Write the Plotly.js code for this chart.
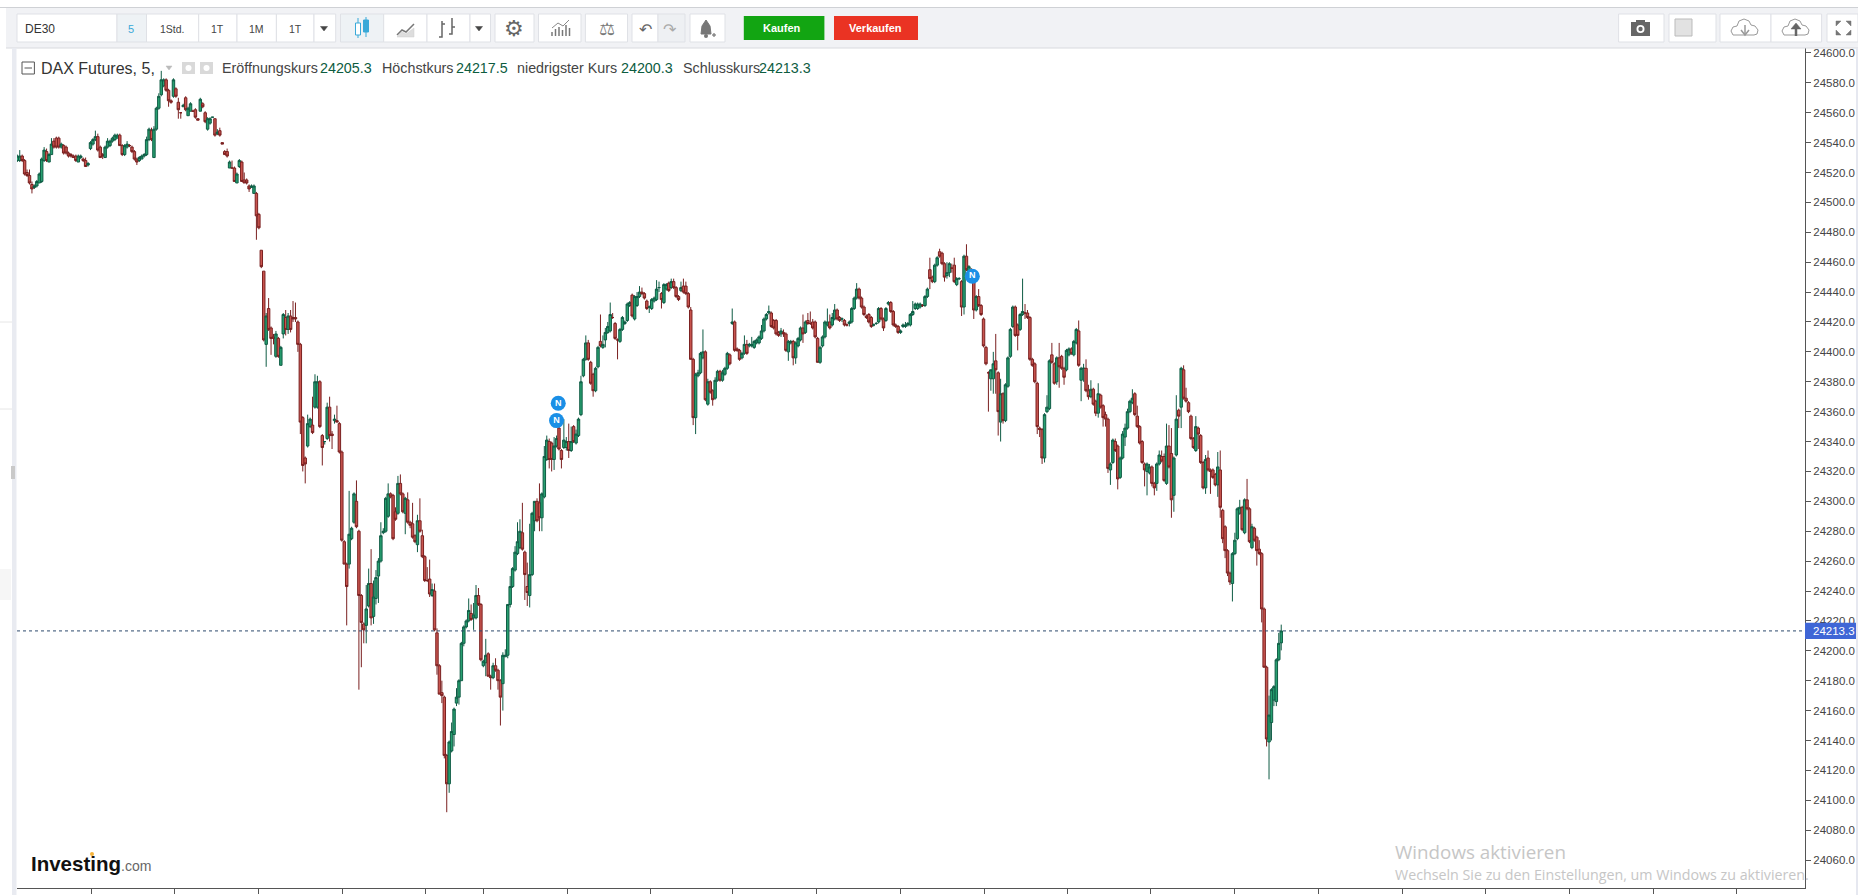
<!DOCTYPE html>
<html><head><meta charset="utf-8">
<script src="https://cdn.plot.ly/plotly-3.0.1.min.js"></script>
<style>html,body{margin:0;padding:0;background:#fff;overflow:hidden}#chart{width:1858px;height:895px}</style>
</head><body><div id="chart"></div>
<script>
const open=[24528,24528,24531,24528,24520,24518,24512,24510,24511,24513,24514,24528,24534,24527,24532,24541,24543,24543,24537,24538,24537,24533,24532,24531,24531,24527,24530,24529,24528,24525,24536,24539,24542,24544,24537,24532,24530,24537,24538,24541,24542,24543,24545,24538,24532,24537,24538,24537,24534,24529,24528,24529,24531,24532,24542,24548,24530,24549,24563,24572,24578,24582,24575,24568,24571,24576,24567,24560,24564,24570,24558,24561,24561,24562,24556,24561,24566,24560,24549,24553,24557,24556,24546,24548,24540,24534,24534,24523,24523,24523,24513,24524,24527,24515,24515,24511,24510,24506,24506,24492,24468,24454,24405,24429,24416,24410,24397,24409,24391,24412,24423,24415,24424,24423,24423,24420,
24405,24356,24329,24337,24350,24351,24363,24363,24380,24344,24340,24342,24363,24345,24354,24354,24352,24333,24273,24258,24258,24275,24286,24300,24280,24237,24218,24217,24230,24245,24223,24235,24250,24260,24279,24280,24290,24305,24304,24293,24292,24312,24305,24292,24301,24286,24285,24277,24271,24287,24277,24263,24247,24248,24237,24240,24212,24190,24172,24169,24130,24111,24133,24144,24165,24169,24180,24205,24216,24220,24225,24222,24222,24237,24231,24190,24192,24198,24183,24182,24190,24187,24180,24178,24196,24197,24231,24243,24254,24265,24269,24279,24266,24243,24237,24251,24287,24300,24299,24289,24303,
24328,24340,24339,24328,24337,24349,24334,24336,24336,24340,24334,24350,24339,24344,24358,24384,24395,24406,24393,24385,24374,24390,24407,24403,24408,24413,24414,24423,24419,24408,24407,24415,24419,24421,24431,24438,24422,24431,24437,24440,24439,24434,24430,24429,24434,24435,24443,24439,24433,24442,24446,24443,24447,24443,24437,24441,24444,24444,24439,24428,24395,24356,24384,24386,24396,24400,24365,24380,24374,24369,24381,24387,24381,24385,24389,24398,24419,24420,24402,24401,24396,24399,24405,24404,24404,24403,24406,24406,24409,24414,24422,24426,24426,24421,24421,24413,24412,24413,24412,24400,24406,24407,24396,24404,24408,24416,24413,24421,24419,24420,24420,24409,24393,24404,24410,24418,24420,
24418,24422,24428,24423,24422,24421,24418,24419,24420,24429,24436,24442,24436,24430,24424,24425,24423,24418,24419,24420,24429,24422,24421,24432,24433,24427,24418,24417,24413,24417,24417,24418,24418,24425,24429,24429,24430,24431,24431,24437,24455,24450,24447,24458,24467,24466,24459,24451,24453,24456,24458,24445,24449,24447,24430,24464,24454,24452,24447,24428,24437,24431,24422,24403,24386,24382,24382,24394,24386,24353,24372,24354,24377,24397,24417,24430,24418,24415,24425,24426,24426,24423,24395,24392,24379,24349,24348,24329,24360,24362,24398,24392,24380,24396,24397,24389,24388,24398,24402,24398,24406,24414,24381,24389,24389,24374,24370,24375,24367,24359,24371,
24364,24358,24355,24321,24326,24340,24337,24316,24329,24343,24349,24360,24366,24372,24357,24350,24340,24325,24320,24319,24323,24312,24312,24325,24330,24330,24312,24337,24332,24304,24331,24361,24363,24388,24369,24366,24357,24342,24334,24349,24344,24326,24309,24329,24321,24321,24318,24311,24321,24294,24283,24267,24252,24245,24265,24275,24292,24296,24279,24301,24295,24269,24282,24276,24268,24265,24228,24189,24139,24152,24167,24166,24194,24205.3];
const high=[24532,24535,24532,24529,24522,24522,24514,24512,24515,24520,24530,24537,24536,24533,24543,24543,24544,24544,24540,24539,24538,24534,24533,24532,24532,24532,24532,24530,24530,24527,24541,24543,24548,24546,24538,24533,24538,24543,24542,24544,24546,24546,24546,24539,24539,24541,24539,24538,24535,24530,24531,24532,24533,24544,24550,24550,24551,24564,24573,24588,24583,24583,24576,24569,24583,24577,24570,24560,24566,24571,24564,24567,24562,24563,24556,24570,24567,24561,24557,24557,24557,24556,24549,24550,24540,24535,24536,24528,24528,24524,24520,24529,24528,24520,24516,24512,24512,24512,24507,24493,24468,24454,24426,24436,24417,24412,24414,24410,24404,24426,24428,24426,24428,24434,24433,24421,
24406,24357,24330,24358,24356,24370,24385,24384,24381,24345,24340,24366,24370,24347,24358,24364,24353,24334,24274,24259,24307,24283,24306,24314,24281,24238,24219,24244,24255,24268,24247,24254,24262,24286,24282,24303,24312,24306,24305,24296,24317,24318,24306,24303,24306,24287,24299,24278,24291,24302,24281,24264,24256,24261,24245,24245,24215,24191,24180,24170,24131,24140,24152,24162,24175,24181,24206,24217,24221,24235,24231,24232,24244,24242,24232,24194,24208,24199,24184,24192,24195,24188,24181,24199,24201,24231,24250,24256,24270,24286,24288,24299,24267,24259,24285,24293,24300,24302,24312,24306,24337,
24344,24342,24340,24343,24344,24351,24335,24355,24343,24352,24350,24351,24348,24356,24384,24396,24411,24408,24394,24386,24390,24404,24425,24411,24416,24420,24433,24426,24420,24409,24416,24424,24421,24433,24434,24439,24438,24440,24444,24443,24440,24435,24431,24436,24437,24448,24447,24440,24446,24446,24447,24449,24449,24444,24438,24447,24449,24447,24440,24430,24396,24386,24388,24400,24415,24401,24382,24381,24375,24383,24388,24388,24388,24390,24400,24399,24429,24421,24403,24402,24400,24411,24408,24406,24410,24408,24409,24411,24418,24423,24426,24431,24427,24422,24422,24414,24416,24415,24413,24408,24408,24408,24407,24410,24417,24425,24421,24426,24427,24422,24421,24410,24404,24411,24421,24429,24425,
24426,24432,24429,24424,24423,24422,24419,24421,24430,24437,24446,24443,24437,24431,24425,24426,24424,24419,24420,24430,24430,24423,24430,24434,24434,24428,24419,24418,24415,24419,24420,24420,24426,24434,24433,24433,24433,24432,24438,24443,24463,24451,24459,24464,24469,24467,24460,24460,24460,24459,24463,24450,24450,24448,24465,24472,24458,24456,24448,24438,24442,24432,24423,24404,24387,24388,24400,24412,24387,24382,24373,24379,24397,24416,24431,24431,24419,24426,24449,24432,24428,24424,24396,24393,24380,24350,24349,24359,24371,24395,24406,24393,24397,24406,24398,24390,24402,24403,24403,24408,24416,24421,24390,24392,24395,24378,24381,24376,24368,24379,24372,
24365,24360,24356,24326,24342,24342,24338,24330,24347,24352,24362,24368,24375,24373,24364,24351,24341,24326,24326,24325,24324,24313,24326,24334,24334,24332,24352,24351,24349,24330,24371,24362,24390,24391,24376,24367,24358,24343,24357,24350,24345,24327,24331,24334,24322,24322,24319,24333,24334,24295,24284,24268,24253,24266,24279,24296,24301,24297,24302,24315,24296,24285,24283,24277,24274,24266,24229,24190,24170,24175,24177,24195,24212,24217.5];
const low=[24527,24527,24527,24518,24517,24512,24506,24509,24510,24513,24513,24527,24527,24527,24532,24536,24536,24536,24536,24532,24532,24530,24530,24530,24527,24527,24529,24527,24524,24524,24535,24538,24541,24534,24530,24529,24530,24536,24537,24540,24541,24543,24538,24531,24531,24536,24537,24533,24528,24525,24527,24529,24530,24531,24541,24541,24530,24548,24562,24571,24577,24574,24564,24566,24570,24570,24556,24556,24564,24561,24558,24561,24561,24556,24555,24561,24563,24553,24548,24552,24557,24544,24545,24544,24539,24532,24530,24523,24523,24514,24513,24523,24514,24513,24512,24507,24510,24506,24475,24482,24456,24407,24390,24414,24398,24405,24396,24396,24391,24409,24411,24412,24413,24420,24420,24400,
24345,24320,24312,24336,24349,24345,24362,24362,24349,24324,24338,24341,24340,24335,24352,24353,24332,24273,24258,24217,24255,24274,24285,24282,24174,24189,24205,24205,24229,24217,24218,24231,24232,24259,24278,24279,24289,24302,24274,24287,24291,24304,24292,24278,24285,24282,24275,24272,24266,24279,24262,24246,24246,24236,24236,24213,24184,24171,24165,24128,24092,24105,24132,24136,24163,24164,24180,24203,24215,24219,24220,24214,24221,24230,24193,24189,24183,24183,24174,24181,24186,24174,24150,24160,24196,24195,24229,24242,24253,24264,24268,24267,24234,24230,24229,24250,24280,24286,24280,24280,24302,
24327,24322,24320,24321,24336,24334,24322,24335,24334,24329,24333,24339,24338,24343,24357,24383,24394,24394,24378,24370,24373,24389,24403,24402,24403,24412,24413,24422,24408,24395,24406,24414,24418,24420,24430,24423,24421,24430,24436,24438,24435,24428,24426,24428,24433,24434,24440,24429,24432,24441,24440,24442,24442,24436,24434,24440,24439,24438,24429,24395,24351,24345,24383,24385,24395,24367,24364,24372,24364,24368,24380,24380,24380,24384,24388,24391,24418,24400,24400,24394,24395,24398,24398,24403,24403,24402,24405,24405,24408,24413,24421,24425,24416,24415,24411,24410,24410,24410,24400,24394,24405,24391,24392,24403,24407,24406,24412,24418,24418,24415,24409,24393,24392,24403,24409,24417,24415,
24417,24421,24421,24420,24420,24417,24417,24417,24419,24428,24435,24435,24429,24424,24422,24419,24416,24417,24418,24419,24421,24414,24420,24431,24426,24417,24416,24412,24412,24416,24416,24417,24417,24424,24428,24428,24429,24430,24430,24436,24442,24446,24446,24457,24463,24458,24447,24449,24450,24453,24446,24444,24448,24424,24425,24454,24453,24451,24422,24427,24430,24424,24403,24391,24360,24374,24372,24372,24344,24340,24352,24353,24376,24396,24416,24410,24401,24414,24424,24422,24422,24394,24390,24379,24345,24343,24325,24326,24359,24361,24392,24378,24378,24376,24388,24378,24387,24397,24398,24397,24405,24390,24367,24380,24373,24368,24369,24364,24357,24356,24362,
24350,24350,24319,24311,24325,24333,24308,24315,24328,24337,24348,24359,24365,24357,24349,24338,24325,24310,24304,24318,24310,24304,24307,24324,24326,24313,24311,24322,24289,24293,24330,24349,24349,24368,24366,24359,24341,24335,24333,24335,24325,24308,24305,24320,24305,24315,24310,24303,24289,24272,24262,24250,24244,24233,24264,24274,24291,24280,24278,24294,24272,24268,24273,24257,24264,24219,24189,24136,24114,24140,24163,24163,24193,24200.3];
const close=[24531,24531,24528,24519,24518,24513,24509,24511,24514,24519,24529,24535,24528,24532,24539,24537,24537,24537,24539,24533,24533,24531,24531,24530,24528,24531,24531,24528,24524,24526,24540,24542,24544,24535,24530,24531,24537,24541,24541,24543,24545,24545,24538,24532,24538,24539,24538,24534,24529,24527,24530,24531,24532,24542,24549,24542,24549,24563,24571,24582,24582,24575,24568,24567,24582,24571,24562,24560,24565,24562,24563,24566,24561,24557,24555,24569,24564,24554,24556,24556,24557,24545,24547,24545,24539,24532,24531,24527,24523,24514,24519,24528,24514,24513,24513,24509,24511,24511,24491,24483,24457,24408,24424,24415,24409,24409,24412,24397,24403,24425,24415,24424,24415,24422,24422,24405,
24353,24324,24325,24352,24355,24346,24380,24380,24350,24336,24340,24363,24344,24344,24355,24353,24333,24274,24258,24243,24278,24282,24305,24283,24237,24219,24214,24228,24245,24222,24236,24249,24260,24277,24280,24302,24305,24303,24275,24288,24312,24305,24293,24302,24286,24284,24276,24273,24287,24280,24263,24247,24247,24238,24241,24214,24190,24171,24170,24130,24111,24139,24146,24161,24169,24180,24205,24216,24220,24227,24221,24224,24237,24231,24194,24193,24197,24183,24182,24190,24187,24180,24169,24197,24197,24231,24243,24255,24266,24273,24280,24268,24251,24239,24251,24292,24300,24287,24289,24305,24330,
24341,24328,24328,24337,24342,24335,24328,24341,24340,24334,24340,24340,24345,24355,24380,24395,24406,24395,24379,24374,24389,24403,24404,24405,24413,24417,24425,24423,24409,24408,24415,24423,24420,24432,24433,24424,24437,24437,24440,24439,24436,24429,24430,24435,24436,24442,24443,24435,24445,24445,24441,24447,24443,24437,24435,24443,24440,24439,24430,24395,24356,24385,24386,24399,24400,24368,24380,24373,24368,24381,24387,24381,24386,24389,24399,24392,24420,24401,24401,24395,24399,24405,24399,24405,24405,24407,24408,24410,24414,24422,24425,24427,24417,24416,24412,24411,24414,24412,24401,24407,24407,24396,24406,24409,24416,24412,24420,24419,24419,24416,24410,24393,24403,24410,24420,24420,24416,
24423,24428,24422,24421,24422,24418,24418,24420,24429,24436,24442,24436,24430,24425,24423,24420,24417,24418,24419,24429,24422,24416,24429,24433,24427,24418,24417,24413,24414,24418,24418,24419,24425,24427,24432,24432,24432,24431,24437,24442,24449,24447,24458,24463,24464,24459,24450,24453,24459,24456,24447,24449,24449,24430,24464,24455,24457,24452,24428,24437,24431,24425,24404,24392,24386,24388,24392,24388,24360,24372,24354,24378,24396,24415,24430,24411,24411,24425,24427,24426,24423,24395,24391,24380,24350,24348,24329,24358,24363,24394,24393,24379,24396,24390,24389,24383,24401,24402,24399,24407,24415,24391,24389,24389,24374,24370,24375,24365,24359,24372,24363,
24356,24355,24322,24325,24341,24334,24315,24329,24345,24349,24360,24367,24369,24358,24350,24339,24326,24321,24325,24323,24312,24309,24325,24331,24327,24314,24337,24323,24301,24329,24355,24357,24389,24369,24367,24360,24342,24336,24350,24345,24326,24309,24328,24321,24320,24316,24311,24323,24296,24275,24267,24252,24246,24265,24274,24295,24296,24281,24301,24295,24273,24283,24274,24267,24265,24228,24189,24141,24157,24174,24176,24194,24205,24213.3];

const tickPx=[91,174,258,342,425,483,567,650,732,816,900,984,1067,1150,1234,1318,1402,1485,1569,1653,1736];
const yTicks=[24060,24080,24100,24120,24140,24160,24180,24200,24220,24240,24260,24280,24300,24320,24340,24360,24380,24400,24420,24440,24460,24480,24500,24520,24540,24560,24580,24600];
const newsX=[221.7,221,391.4];
const newsY=[24365.6,24354,24450.6];
const lastPrice=24213.3;

const W=1858,H=895,L=17,R=1805,T=48,B=888,STEP=2.44,X0=17.3;
const fx=p=>(p-L)/(R-L), fy=p=>(B-p)/(B-T);
const shapes=[],ann=[];
function rect(x0,y0,x1,y1,fill,line){shapes.push({type:'rect',xref:'paper',yref:'paper',layer:'above',x0:fx(x0),x1:fx(x1),y0:fy(y0),y1:fy(y1),fillcolor:fill,line:{color:line||fill,width:line?1:0}});}
function path(pts,color,width,fill){const d=pts.map((p,i)=>(i?'L':'M')+fx(p[0])+' '+fy(p[1])).join(' ')+(fill?' Z':'');shapes.push({type:'path',xref:'paper',yref:'paper',layer:'above',path:d,line:{color:color,width:width},fillcolor:fill||'rgba(0,0,0,0)'});}
function circ(cx,cy,r,fill){shapes.push({type:'circle',xref:'paper',yref:'paper',layer:'above',x0:fx(cx-r),x1:fx(cx+r),y0:fy(cy+r),y1:fy(cy-r),fillcolor:fill,line:{width:0}});}
function label(x,y,t,size,color,anchor,fam){ann.push({xref:'paper',yref:'paper',x:fx(x),y:fy(y),text:t,showarrow:false,xanchor:anchor||'center',yanchor:'middle',borderpad:0,font:{size:size,color:color,family:fam||'Liberation Sans, Arial, sans-serif'}});}
function cloud(cx,cy){path([[-12,7],[-14,3],[-12,-1],[-8,-2],[-6,-7],[-1,-9],[4,-7],[6,-3],[10,-2],[13,2],[12,6],[9,7]].map(p=>[cx+p[0],cy+p[1]]),'#999',1,'#fff');}

// page chrome
rect(0,0,1858,7,'#ffffff');
rect(6,7.5,1858,48,'#f1f2f5');
path([[0,7.5],[1858,7.5]],'#cfd1d5',1);
path([[6,48],[1858,48]],'#d8dade',1);
rect(12,48,16.5,895,'#e9ebf1');
rect(1856,48,1858,895,'#e6e8f0');
path([[0,322],[12,322]],'#e6e6e6',1);path([[0,409],[12,409]],'#e6e6e6',1);
rect(0,569,11,600,'#f6f6f6');rect(11,466,15,479,'#c9c9c9');
const BTN='#dfe1e6';
function btn(a,b,fill){rect(a,14,b,42,fill||'#ffffff',BTN);}
btn(17,117);btn(117,146.5,'#eef2f5');btn(146.5,198.7);btn(198.7,237);btn(237,276.4);btn(276.4,314);btn(314,335.7);
btn(340.5,383.7,'#eef2f5');btn(383.7,427);btn(427,470);btn(470,490.5);btn(495,534);btn(538.5,581);btn(585.4,627.5);
btn(632,658,'#ffffff');btn(658,685,'#eef0f3');btn(690,725);
label(24,29,'DE30',12,'#333','left');
label(130.5,29,'5',11,'#39a9d8');
label(172.6,29,'1Std.',10.5,'#444');label(217.7,29,'1T',10.5,'#444');label(256,29,'1M',10.5,'#444');label(295,29,'1T',10.5,'#444');
function arrow(cx,c){path([[cx-3.5,26.5],[cx+3.5,26.5],[cx,31]],c||'#444',0.5,c||'#444');}
arrow(324);arrow(479);arrow(1704.5);
// candle icon
path([[358,18],[358,38]],'#39a9d8',1);rect(355.5,23,360.5,35,'#ffffff','#39a9d8');
path([[366,17],[366,37]],'#39a9d8',1);rect(363.5,20,368.5,32,'#39a9d8','#39a9d8');
// line icon
path([[397,35],[402,30],[406,32],[414,24]],'#777',1.5);path([[397,37],[402,32],[406,34],[414,28],[414,37],[397,37]],'#ccc',0.5,'#ddd');
// bars icon
path([[442,21],[442,37],[439,37]],'#666',1.5);path([[442,24],[445,24]],'#666',1.5);path([[452,18],[452,34],[449,34]],'#666',1.5);path([[452,27],[455,27]],'#666',1.5);
label(514,28,'⚙',22,'#666','center','DejaVu Sans');
// indicator icon
[[552,36,32],[555.5,36,29],[559,36,27],[562.5,36,30],[566,36,25],[569.5,36,28]].forEach(b=>path([[b[0],b[1]],[b[0],b[2]]],'#777',1.5));
path([[552,28],[558,23],[563,26],[569,20]],'#888',1);
label(607,28,'⚖',18,'#777','center','DejaVu Sans');
label(645,29,'↶',16,'#666','center','DejaVu Sans');
label(670,29,'↷',16,'#aaa','center','DejaVu Sans');
path([[701,34],[702,26],[706,20],[710,26],[711,34]],'#777',1,'#777');circ(706,36,2,'#777');path([[712,35],[716,35]],'#777',1.2);path([[714,33],[714,37]],'#777',1.2);
shapes.push({type:'rect',xref:'paper',yref:'paper',layer:'above',x0:fx(743.8),x1:fx(824.4),y0:fy(40),y1:fy(16),fillcolor:'#12a512',line:{width:0}});
shapes.push({type:'rect',xref:'paper',yref:'paper',layer:'above',x0:fx(834),x1:fx(918),y0:fy(40),y1:fy(16),fillcolor:'#ea3323',line:{width:0}});
label(781.7,28,'<b>Kaufen</b>',11,'#fff');label(875,28,'<b>Verkaufen</b>',11,'#fff');
// right tools
rect(1618.6,14,1664,42,'#fff',BTN);rect(1669,14,1716,42,'#fff',BTN);rect(1720,14,1771,42,'#fff',BTN);rect(1771,14,1821.6,42,'#fff',BTN);rect(1827,14,1858,42,'#fff',BTN);
rect(1631,22,1650,36,'#666');rect(1636,20,1645,23,'#666');circ(1640.5,29,4,'#fff');circ(1640.5,29,2.2,'#666');
rect(1675,19,1692,36,'#e2e2e2','#bbb');
cloud(1745,28);cloud(1796,28);
path([[1745,25],[1745,34]],'#999',1.5);path([[1741,30],[1745,35],[1749,30]],'#999',1.5);
path([[1796,36],[1796,27]],'#666',2.5);path([[1791,29],[1796,23],[1801,29]],'#666',0.5,'#666');
[[1836,21,1,1],[1851,21,-1,1],[1836,35,1,-1],[1851,35,-1,-1]].forEach(a=>path([[a[0],a[1]],[a[0]+5*a[2],a[1]],[a[0],a[1]+5*a[3]]],'#777',0.5,'#777'));
// legend row
rect(22,62,34.4,74,'#fff','#555');path([[24.5,68],[32,68]],'#555',1);
label(40,68,'DAX Futures, 5,',16,'#333','left');
path([[166,66],[172,66],[169,70]],'#bbb',0.5,'#bbb');
rect(182,62,195,74,'#d9d9d9');rect(200,62,213,74,'#d9d9d9');circ(188.5,68,3,'#fff');circ(206.5,68,3,'#fff');
const LC='#444',VC='#0d5c3f';
label(220.6,68,'Eröffnungskurs',14.3,LC,'left');label(319,68,'24205.3',14.3,VC,'left');
label(381,68,'Höchstkurs',14.3,LC,'left');label(455,68,'24217.5',14.3,VC,'left');
label(516,68,'niedrigster Kurs',14.3,LC,'left');label(620,68,'24200.3',14.3,VC,'left');
label(682,68,'Schlusskurs',14.3,LC,'left');label(758,68,'24213.3',14.3,VC,'left');
// logo and watermark
label(30,863,'<b>Investing</b><span style="font-size:14px;color:#666">.com</span>',20.5,'#111','left');
circ(92,854,2,'#f5b33a');
label(1394,851.5,'Windows aktivieren',18.8,'#c6c6c6','left','Open Sans');
label(1394,874,'Wechseln Sie zu den Einstellungen, um Windows zu aktivieren.',14.25,'#c6c6c6','left','Open Sans');
// last price line and tag
shapes.push({type:'line',xref:'paper',yref:'y',layer:'above',x0:0,x1:1,y0:lastPrice,y1:lastPrice,line:{color:'#2d4a6d',width:1,dash:'dot'}});
rect(1805,622.7,1856,639,'#3f66d6');
label(1812,631,'24213.3',11.5,'#fff','left');

const idx=open.map((_,i)=>i);
const data=[{type:'candlestick',x:idx,open:open,high:high,low:low,close:close,
  increasing:{line:{color:'#0f5c45',width:1},fillcolor:'#27a070'},
  decreasing:{line:{color:'#7a2020',width:1},fillcolor:'#c9554f'},
  whiskerwidth:0,hoverinfo:'skip',showlegend:false},
 {type:'scatter',mode:'markers+text',x:newsX,y:newsY,text:['<b>N</b>','<b>N</b>','<b>N</b>'],textposition:'middle center',
  textfont:{color:'#fff',size:9,family:'Liberation Sans'},marker:{size:15,color:'#1a8fe6',line:{width:0}},hoverinfo:'skip',showlegend:false,cliponaxis:false}];
const layout={width:W,height:H,margin:{l:L,r:W-R,t:T,b:H-B,pad:0},paper_bgcolor:'#fff',plot_bgcolor:'#fff',showlegend:false,boxgap:0,boxgroupgap:0,
 xaxis:{range:[(L-X0)/STEP,(R-X0)/STEP],rangeslider:{visible:false},showgrid:false,zeroline:false,showline:true,linecolor:'#555',linewidth:1,tickmode:'array',tickvals:tickPx.map(p=>(p-X0)/STEP),ticktext:tickPx.map(()=>''),ticks:'outside',ticklen:5,tickcolor:'#555',fixedrange:true},
 yaxis:{side:'right',range:[24041.3,24603.3],showgrid:false,zeroline:false,showline:true,linecolor:'#555',linewidth:1,tickmode:'array',tickvals:yTicks,ticktext:yTicks.map(v=>v.toFixed(1)),ticks:'outside',ticklen:5,tickcolor:'#555',tickfont:{size:11.5,color:'#444',family:'Liberation Sans, Arial, sans-serif'},fixedrange:true},
 shapes:shapes,annotations:ann,hovermode:false};
Plotly.newPlot('chart',data,layout,{displayModeBar:false,staticPlot:true});
</script></body></html>
